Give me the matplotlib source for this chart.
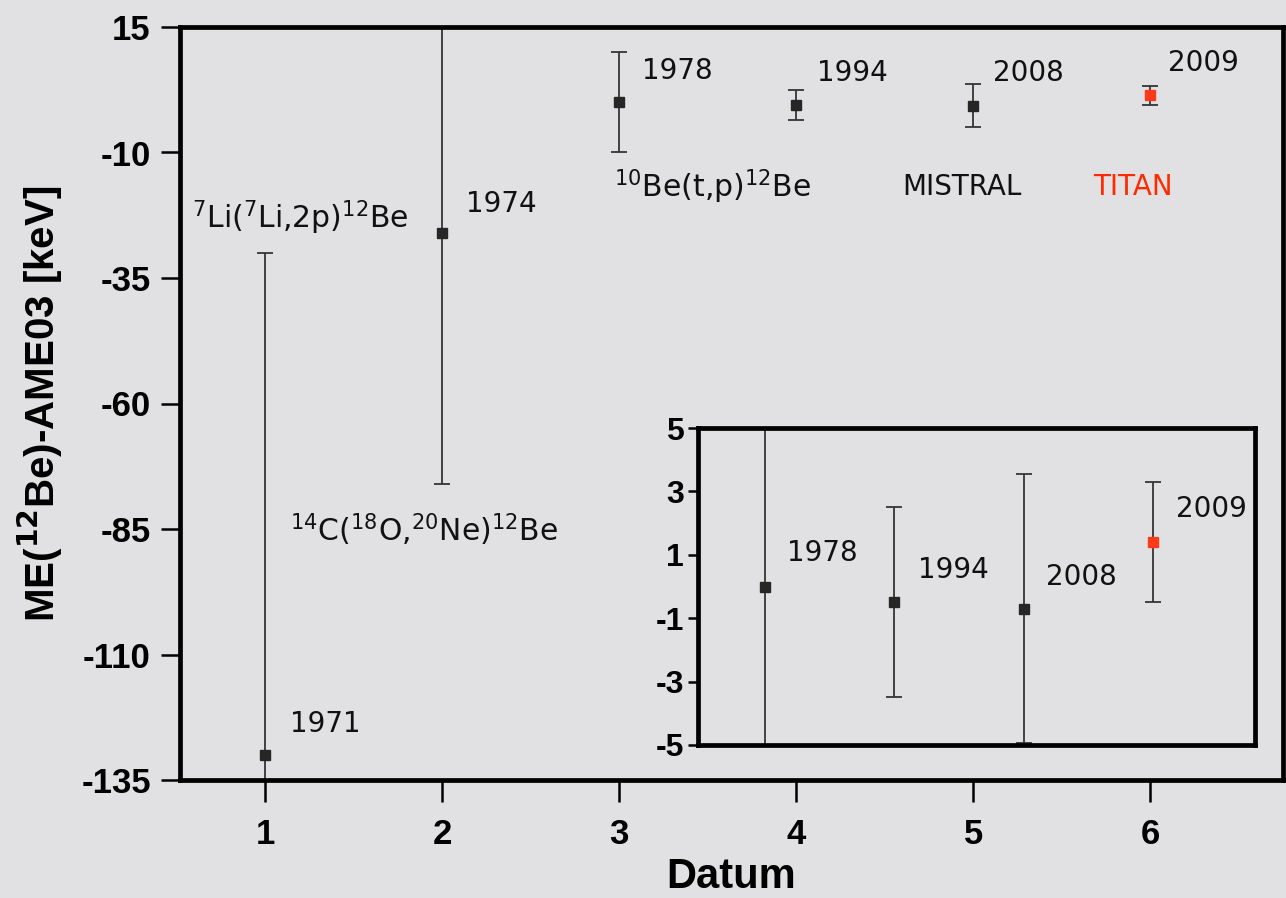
import matplotlib
matplotlib.use("Agg")
import matplotlib.pyplot as plt

plt.rcParams["axes.unicode_minus"] = False

# ---- data ----
datum = [1, 2, 3, 4, 5, 6]
me_diff = [-130.0, -26.0, 0.0, -0.5, -0.7, 1.4]
me_err = [100.0, 50.0, 10.0, 3.0, 4.25, 1.9]
years = ["1971", "1974", "1978", "1994", "2008", "2009"]
point_colors = ["#262626", "#262626", "#262626", "#262626", "#262626", "#ff3a1a"]

inset_x = [1, 2, 3, 4]
inset_y = [0.0, -0.5, -0.7, 1.4]
inset_err = [10.0, 3.0, 4.25, 1.9]
inset_years = ["1978", "1994", "2008", "2009"]
inset_colors = ["#262626", "#262626", "#262626", "#ff3a1a"]

main_yticks = [-135, -110, -85, -60, -35, -10, 15]
main_xticks = [1, 2, 3, 4, 5, 6]
inset_yticks = [-5, -3, -1, 1, 3, 5]

BG = "#e1e1e3"
INK = "#353535"
RED = "#ff2a00"
TXT = "#111111"
BOLD_FAM = ["Liberation Sans", "DejaVu Sans"]
ann_font = ["DejaVu Sans"]
ANN_FS = 20

fig = plt.figure(figsize=(12.86, 8.98), dpi=100, facecolor=BG)
ax = fig.add_axes([180 / 1286, 1 - 780 / 898, (1283 - 180) / 1286, (780 - 27) / 898])
ax.set_facecolor(BG)

for x, y, e, c in zip(datum, me_diff, me_err, point_colors):
    ax.errorbar([x], [y], yerr=[e], fmt="s", color=c, ecolor=INK, elinewidth=1.3,
                capsize=6, capthick=1.3, markersize=6.5)

ax.set_xlim(0.52, 6.75)
ax.set_ylim(-135, 15)
ax.set_xticks(main_xticks)
ax.set_yticks(main_yticks)
for s in ax.spines.values():
    s.set_linewidth(3.4)
ax.tick_params(axis="y", direction="out", length=14, width=1.8, pad=7, labelsize=25)
ax.tick_params(axis="x", direction="out", length=16, width=1.8, pad=11, labelsize=25)
for lab in ax.get_xticklabels() + ax.get_yticklabels():
    lab.set_fontfamily(BOLD_FAM)
    lab.set_fontweight("bold")

ax.set_xlabel("Datum", fontsize=30, fontweight="bold", family=BOLD_FAM, labelpad=5)
ax.set_ylabel(r"ME($\mathbf{^{12}}$Be)-AME03 [keV]", fontsize=29, fontweight="bold",
              family=BOLD_FAM, labelpad=12)

# year labels (main)
year_pos = [(1.14, -123.8), (2.135, -20.3), (3.13, 6.2), (4.12, 5.8), (5.11, 5.8), (6.10, 7.8)]
for (tx, ty), t in zip(year_pos, years):
    ax.text(tx, ty, t, fontsize=ANN_FS, family=ann_font, va="center", ha="left", color=TXT)

ax.text(0.588, -23, r"$^{7}$Li($^{7}$Li,2p)$^{12}$Be", fontsize=ANN_FS + 1.5, family=ann_font,
        va="center", ha="left", color=TXT)
ax.text(1.14, -85.2, r"$^{14}$C($^{18}$O,$^{20}$Ne)$^{12}$Be", fontsize=ANN_FS + 1.5, family=ann_font,
        va="center", ha="left", color=TXT)
ax.text(2.97, -16.9, r"$^{10}$Be(t,p)$^{12}$Be", fontsize=ANN_FS + 1.5, family=ann_font,
        va="center", ha="left", color=TXT)
ax.text(4.60, -16.9, "MISTRAL", fontsize=ANN_FS, family=ann_font, va="center", ha="left", color=TXT)
ax.text(5.68, -16.9, "TITAN", fontsize=ANN_FS, family=ann_font, va="center", ha="left", color=RED)

# ---- inset ----
ins = fig.add_axes([698 / 1286, 1 - 745 / 898, 557 / 1286, 317 / 898])
ins.set_facecolor(BG)
for x, y, e, c in zip(inset_x, inset_y, inset_err, inset_colors):
    ins.errorbar([x], [y], yerr=[e], fmt="s", color=c, ecolor=INK, elinewidth=1.3,
                 capsize=6, capthick=1.3, markersize=6.5)
ins.set_xlim(0.48, 4.79)
ins.set_ylim(-5, 5)
ins.set_yticks(inset_yticks)
ins.set_xticks([])
for s in ins.spines.values():
    s.set_linewidth(3.4)
ins.tick_params(axis="y", direction="out", length=7, width=1.8, pad=3, labelsize=23)
for lab in ins.get_yticklabels():
    lab.set_fontfamily(BOLD_FAM)
    lab.set_fontweight("bold")

inset_pos = [(1.17, 1.06), (2.18, 0.52), (3.17, 0.3), (4.18, 2.44)]
for (tx, ty), t in zip(inset_pos, inset_years):
    ins.text(tx, ty, t, fontsize=ANN_FS, family=ann_font, va="center", ha="left", color=TXT)

fig.savefig("out.png", dpi=100, facecolor=BG)
